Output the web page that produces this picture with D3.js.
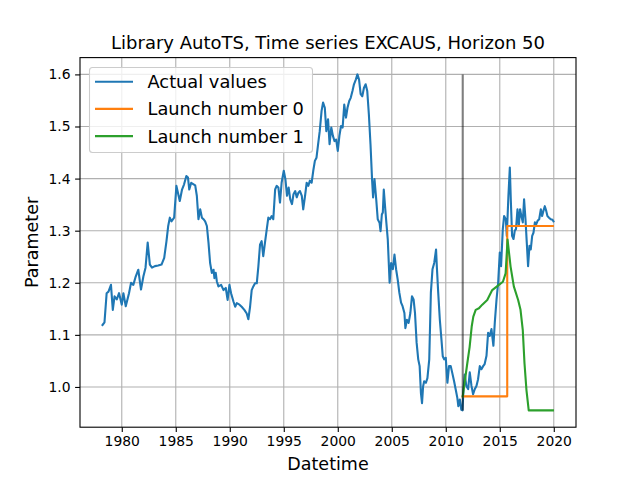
<!DOCTYPE html>
<html>
<head>
<meta charset="utf-8">
<script src="https://cdn.jsdelivr.net/npm/d3@7"></script>
<style>
	body { margin: 0; background: #fff; }
	svg { font-family: "DejaVu Sans", sans-serif; }
</style>
</head>
<body>
<svg></svg>
<script>
// Chart data (decimal years)
var actualDates = [
	1978.22, 1978.40, 1978.60, 1978.77, 1979.00, 1979.17, 1979.33, 1979.54, 1979.75, 1980.00,
	1980.15, 1980.37, 1980.67, 1980.86, 1981.07, 1981.29, 1981.53, 1981.78, 1982.00, 1982.20,
	1982.40, 1982.60, 1982.80, 1983.07, 1983.37, 1983.68, 1983.93, 1984.14, 1984.30, 1984.45,
	1984.60, 1984.85, 1985.06, 1985.20, 1985.37, 1985.58, 1985.77, 1985.98, 1986.13, 1986.25,
	1986.43, 1986.65, 1986.80, 1986.95, 1987.10, 1987.26, 1987.42, 1987.57, 1987.72, 1987.88,
	1988.03, 1988.18, 1988.34, 1988.50, 1988.58, 1988.70, 1988.80, 1988.95, 1989.20, 1989.42,
	1989.63, 1989.80, 1989.97, 1990.12, 1990.34, 1990.50, 1990.65, 1990.90, 1991.10, 1991.35,
	1991.57, 1991.72, 1991.88, 1992.03, 1992.18, 1992.34, 1992.50, 1992.65, 1992.80, 1992.95,
	1993.10, 1993.26, 1993.42, 1993.57, 1993.72, 1993.88, 1994.03, 1994.20, 1994.34, 1994.50,
	1994.65, 1994.80, 1995.00, 1995.15, 1995.30, 1995.45, 1995.60, 1995.76, 1995.90, 1996.06,
	1996.20, 1996.36, 1996.50, 1996.67, 1996.80, 1996.97, 1997.12, 1997.27, 1997.42, 1997.58,
	1997.73, 1997.88, 1998.03, 1998.18, 1998.33, 1998.50, 1998.64, 1998.80, 1998.94, 1999.10,
	1999.24, 1999.40, 1999.55, 1999.70, 1999.85, 2000.00, 2000.15, 2000.30, 2000.45, 2000.60,
	2000.76, 2000.90, 2001.06, 2001.20, 2001.36, 2001.50, 2001.67, 2001.82, 2001.97, 2002.12,
	2002.27, 2002.42, 2002.58, 2002.73, 2002.88, 2003.03, 2003.18, 2003.27, 2003.40, 2003.56,
	2003.70, 2003.87, 2003.96, 2004.08, 2004.17, 2004.26, 2004.40, 2004.50, 2004.63, 2004.80,
	2004.94, 2005.10, 2005.25, 2005.40, 2005.55, 2005.70, 2005.86, 2006.00, 2006.17, 2006.26,
	2006.40, 2006.56, 2006.72, 2006.87, 2007.02, 2007.15, 2007.30, 2007.45, 2007.58, 2007.70,
	2007.80, 2007.90, 2008.00, 2008.16, 2008.30, 2008.47, 2008.62, 2008.77, 2008.93, 2009.10,
	2009.17, 2009.30, 2009.45, 2009.60, 2009.72, 2009.85, 2010.00, 2010.15, 2010.30, 2010.46,
	2010.60, 2010.77, 2010.92, 2011.07, 2011.16, 2011.30, 2011.44, 2011.55, 2011.64, 2011.76,
	2011.90, 2012.07, 2012.22, 2012.38, 2012.53, 2012.69, 2012.84, 2012.99, 2013.15, 2013.30,
	2013.46, 2013.60, 2013.77, 2013.92, 2014.07, 2014.23, 2014.41, 2014.54, 2014.70, 2014.85,
	2015.00, 2015.12, 2015.28, 2015.40, 2015.56, 2015.65, 2015.80, 2015.93, 2016.02, 2016.14,
	2016.27, 2016.39, 2016.50, 2016.64, 2016.76, 2016.88, 2017.00, 2017.13, 2017.25, 2017.38,
	2017.50, 2017.62, 2017.75, 2017.87, 2018.00, 2018.12, 2018.25, 2018.37, 2018.50, 2018.65,
	2018.80, 2018.92, 2019.04, 2019.17, 2019.30, 2019.41, 2019.56, 2019.72, 2019.88, 2019.97
];
var actualValues = [
	1.119, 1.124, 1.180, 1.183, 1.196, 1.148, 1.174, 1.168, 1.180, 1.158,
	1.180, 1.155, 1.180, 1.200, 1.196, 1.212, 1.225, 1.187, 1.212, 1.229,
	1.277, 1.235, 1.229, 1.232, 1.233, 1.235, 1.248, 1.280, 1.309, 1.325,
	1.318, 1.325, 1.386, 1.373, 1.357, 1.379, 1.389, 1.405, 1.402, 1.379,
	1.392, 1.389, 1.387, 1.367, 1.322, 1.341, 1.325, 1.322, 1.318, 1.309,
	1.277, 1.238, 1.219, 1.225, 1.209, 1.219, 1.203, 1.193, 1.196, 1.186,
	1.190, 1.167, 1.196, 1.180, 1.164, 1.154, 1.161, 1.158, 1.154, 1.148,
	1.141, 1.130, 1.154, 1.186, 1.193, 1.199, 1.199, 1.232, 1.273, 1.280,
	1.251, 1.277, 1.302, 1.325, 1.322, 1.328, 1.322, 1.379, 1.386, 1.383,
	1.354, 1.392, 1.415, 1.399, 1.367, 1.383, 1.360, 1.351, 1.370, 1.376,
	1.364, 1.373, 1.376, 1.367, 1.341, 1.367, 1.392, 1.386, 1.396, 1.392,
	1.415, 1.434, 1.440, 1.466, 1.491, 1.530, 1.546, 1.536, 1.491, 1.514,
	1.466, 1.498, 1.482, 1.472, 1.475, 1.453, 1.482, 1.501, 1.498, 1.542,
	1.517, 1.536, 1.549, 1.555, 1.568, 1.581, 1.590, 1.600, 1.590, 1.562,
	1.558, 1.574, 1.581, 1.568, 1.523, 1.466, 1.396, 1.364, 1.399, 1.360,
	1.322, 1.315, 1.299, 1.331, 1.335, 1.379, 1.341, 1.315, 1.283, 1.200,
	1.238, 1.226, 1.254, 1.226, 1.206, 1.181, 1.162, 1.155, 1.142, 1.113,
	1.129, 1.123, 1.142, 1.174, 1.168, 1.142, 1.085, 1.053, 1.040, 0.988,
	0.969, 1.001, 1.011, 1.008, 1.017, 1.053, 1.181, 1.226, 1.238, 1.264,
	1.232, 1.181, 1.129, 1.091, 1.059, 1.053, 1.056, 1.008, 1.040, 1.040,
	1.027, 1.011, 0.995, 0.979, 0.963, 0.976, 0.956, 0.955, 0.996, 1.024,
	1.002, 0.996, 1.028, 1.002, 0.986, 0.996, 1.002, 1.015, 1.040, 1.034,
	1.040, 1.044, 1.060, 1.104, 1.098, 1.111, 1.079, 1.124, 1.168, 1.200,
	1.258, 1.232, 1.303, 1.328, 1.322, 1.290, 1.367, 1.421, 1.360, 1.290,
	1.284, 1.300, 1.303, 1.341, 1.309, 1.341, 1.328, 1.316, 1.360, 1.322,
	1.277, 1.232, 1.271, 1.264, 1.290, 1.296, 1.316, 1.312, 1.319, 1.322,
	1.341, 1.328, 1.338, 1.347, 1.338, 1.328, 1.325, 1.322, 1.321, 1.318
];

var launch0Dates = [2011.57, 2015.69, 2015.69, 2019.92];
var launch0Values = [0.982, 0.982, 1.309, 1.309];

var launch1Dates = [
	2011.57, 2011.69, 2011.99, 2012.21, 2012.40, 2012.55, 2012.77, 2013.07, 2013.38, 2013.84,
	2014.30, 2014.92, 2015.29, 2015.54, 2015.72, 2016.00, 2016.30, 2016.70, 2016.92, 2017.13,
	2017.29, 2017.47, 2017.68, 2019.92
];
var launch1Values = [
	0.982, 1.000, 1.045, 1.077, 1.116, 1.135, 1.148, 1.151, 1.158, 1.167,
	1.186, 1.196, 1.202, 1.218, 1.283, 1.231, 1.193, 1.167, 1.148, 1.109,
	1.045, 0.994, 0.955, 0.955
];

var splitDate = 2011.57;

var xTicks = [1980, 1985, 1990, 1995, 2000, 2005, 2010, 2015, 2020];
var yTicks = [1.0, 1.1, 1.2, 1.3, 1.4, 1.5, 1.6];

var seriesNames = ["Actual values", "Launch number 0", "Launch number 1"];
var seriesColors = ["#1f77b4", "#ff7f0e", "#2ca02c"];

// Layout (matplotlib default figure 6.4x4.8 at 100 dpi)
var figWidth = 640, figHeight = 480;
var plotLeft = 80, plotRight = 576, plotTop = 57.6, plotBottom = 427.2;

var svg =
	d3.select("svg")
		.attr("width", figWidth)
		.attr("height", figHeight);

function toPoints(xs, ys) {
	return xs.map(function(d, i) { return [d, ys[i]]; });
}

var series = [
	toPoints(actualDates, actualValues),
	toPoints(launch0Dates, launch0Values),
	toPoints(launch1Dates, launch1Values)
];

// 5% margins like matplotlib autoscale
var allX = actualDates.concat(launch0Dates, launch1Dates);
var allY = actualValues.concat(launch0Values, launch1Values);
var xExt = d3.extent(allX), yExt = d3.extent(allY);
var xPad = (xExt[1] - xExt[0]) * 0.05, yPad = (yExt[1] - yExt[0]) * 0.05;

var x = d3.scaleLinear()
	.domain([xExt[0] - xPad, xExt[1] + xPad])
	.range([plotLeft, plotRight]);

var y = d3.scaleLinear()
	.domain([yExt[0] - yPad, yExt[1] + yPad])
	.range([plotBottom, plotTop]);

// Grid
var grid = svg.append("g").attr("class", "grid");

grid.selectAll(".gx")
		.data(xTicks)
	.enter().append("line")
		.attr("x1", function(d) { return x(d); })
		.attr("x2", function(d) { return x(d); })
		.attr("y1", plotTop)
		.attr("y2", plotBottom)
		.attr("stroke", "#b0b0b0")
		.attr("stroke-width", 1.1);

grid.selectAll(".gy")
		.data(yTicks)
	.enter().append("line")
		.attr("x1", plotLeft)
		.attr("x2", plotRight)
		.attr("y1", function(d) { return y(d); })
		.attr("y2", function(d) { return y(d); })
		.attr("stroke", "#b0b0b0")
		.attr("stroke-width", 1.1);

// Lines
var line = d3.line()
	.x(function(d) { return x(d[0]); })
	.y(function(d) { return y(d[1]); });

svg.append("g")
	.selectAll("path")
		.data(series)
	.enter().append("path")
		.attr("d", line)
		.attr("fill", "none")
		.attr("stroke", function(d, i) { return seriesColors[i]; })
		.attr("stroke-width", 2.1)
		.attr("stroke-linejoin", "round")
		.attr("stroke-linecap", "square");

// Split marker
svg.append("line")
	.attr("x1", x(splitDate))
	.attr("x2", x(splitDate))
	.attr("y1", y(d3.min(actualValues)))
	.attr("y2", y(d3.max(actualValues)))
	.attr("stroke", "#000")
	.attr("stroke-opacity", 0.5)
	.attr("stroke-width", 2.1);

// Axes
var xAxis = svg.append("g")
	.attr("transform", "translate(0," + plotBottom + ")")
	.call(d3.axisBottom(x).tickValues(xTicks).tickFormat(d3.format("d"))
		.tickSize(4.9).tickSizeOuter(0).tickPadding(4));

var yAxis = svg.append("g")
	.attr("transform", "translate(" + plotLeft + ",0)")
	.call(d3.axisLeft(y).tickValues(yTicks).tickFormat(d3.format(".1f"))
		.tickSize(4.9).tickSizeOuter(0).tickPadding(4.5));

[xAxis, yAxis].forEach(function(a) {
	a.select(".domain").remove();
	a.selectAll("line").attr("stroke", "#000").attr("stroke-width", 1.1);
	a.selectAll("text")
		.attr("fill", "#000")
		.style("font-family", "DejaVu Sans")
		.style("font-size", "13.9px");
});

// Frame
svg.append("rect")
	.attr("x", plotLeft)
	.attr("y", plotTop)
	.attr("width", plotRight - plotLeft)
	.attr("height", plotBottom - plotTop)
	.attr("fill", "none")
	.attr("stroke", "#000")
	.attr("stroke-width", 1.1);

// Title and labels
svg.append("text")
	.attr("x", (plotLeft + plotRight) / 2)
	.attr("y", 49)
	.attr("text-anchor", "middle")
	.attr("font-size", "18px")
	.text("Library AutoTS, Time series EXCAUS, Horizon 50");

svg.append("text")
	.attr("x", (plotLeft + plotRight) / 2)
	.attr("y", 470)
	.attr("text-anchor", "middle")
	.attr("font-size", "17.5px")
	.text("Datetime");

svg.append("text")
	.attr("transform", "translate(38," + ((plotTop + plotBottom) / 2) + ") rotate(-90)")
	.attr("text-anchor", "middle")
	.attr("font-size", "17.5px")
	.text("Parameter");

// Legend
var legend = svg.append("g").attr("class", "legend");

legend.append("rect")
	.attr("x", 89.5)
	.attr("y", 67.5)
	.attr("width", 223)
	.attr("height", 85)
	.attr("rx", 3)
	.attr("fill", "#fff")
	.attr("fill-opacity", 0.8)
	.attr("stroke", "#cccccc")
	.attr("stroke-width", 1.1);

var items =
	legend.selectAll(".legend-item")
			.data(seriesNames)
		.enter().append("g")
			.attr("class", "legend-item")
			.attr("transform", function(d, i) { return "translate(95," + (81.7 + i * 27.2) + ")"; });

items.append("line")
	.attr("x1", 0)
	.attr("x2", 38)
	.attr("stroke", function(d, i) { return seriesColors[i]; })
	.attr("stroke-width", 2.1);

items.append("text")
	.attr("x", 52.5)
	.attr("dy", "0.36em")
	.attr("font-size", "17.8px")
	.text(function(d) { return d; });
</script>
</body>
</html>
